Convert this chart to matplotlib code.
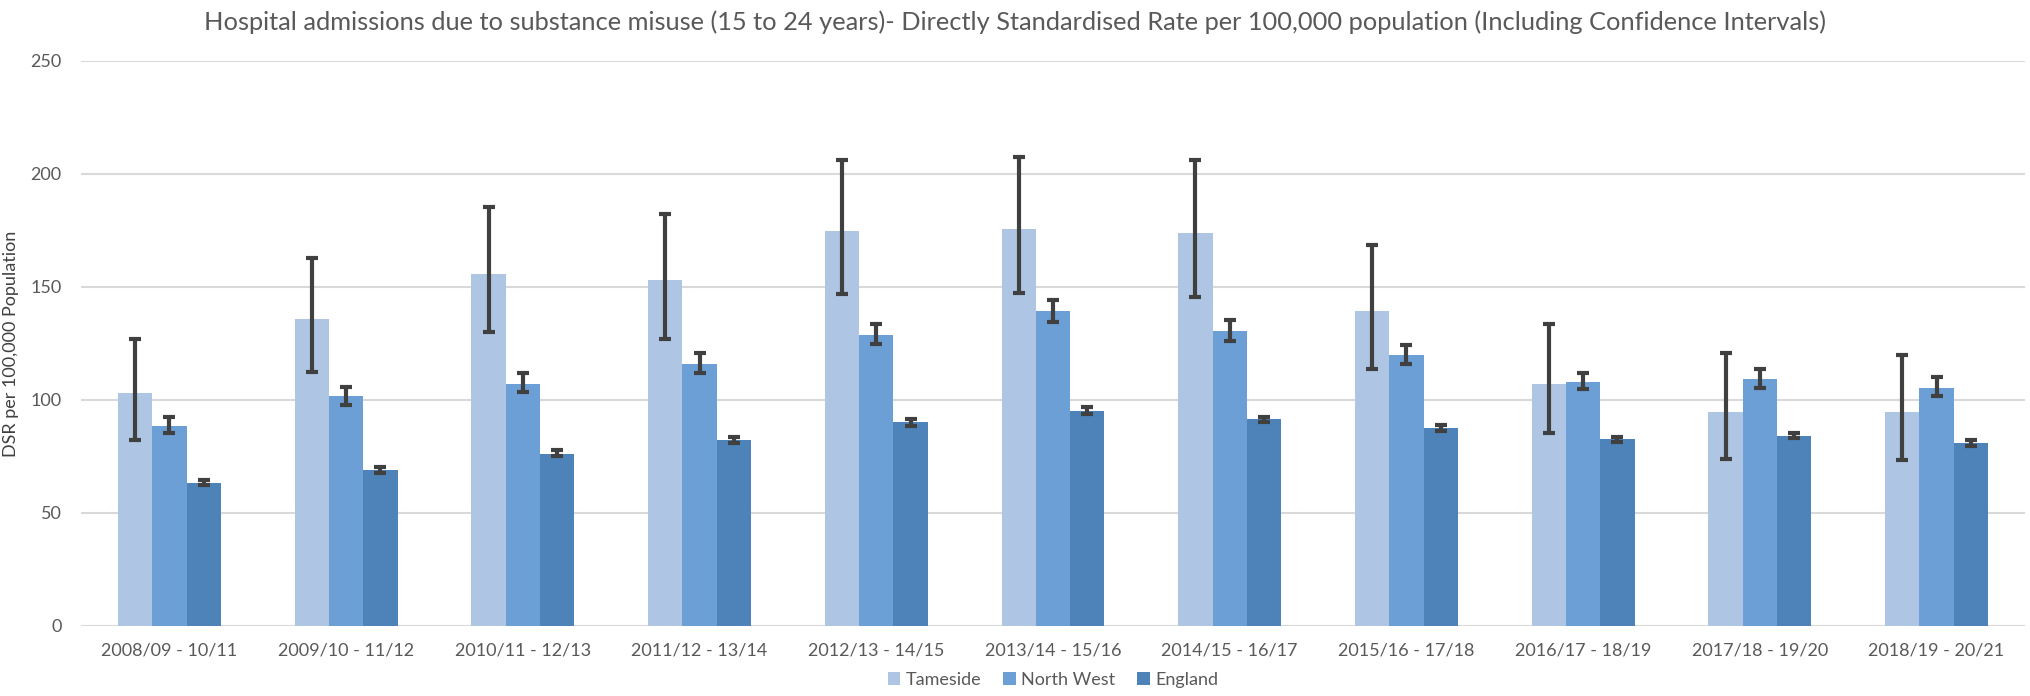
import numpy as np
import matplotlib.pyplot as plt

periods = ['2008/09 - 10/11', '2009/10 - 11/12', '2010/11 - 12/13', '2011/12 - 13/14',
           '2012/13 - 14/15', '2013/14 - 15/16', '2014/15 - 16/17', '2015/16 - 17/18',
           '2016/17 - 18/19', '2017/18 - 19/20', '2018/19 - 20/21']

tameside = [103.0, 135.7, 155.6, 153.3, 174.6, 175.6, 173.9, 139.5, 107.0, 94.5, 94.5]
tameside_lo = [82.3, 112.2, 129.9, 127.0, 147.0, 147.5, 145.5, 113.8, 85.2, 73.8, 73.3]
tameside_hi = [126.8, 162.9, 185.4, 182.4, 206.3, 207.6, 206.3, 168.5, 133.8, 120.6, 120.1]

north_west = [88.3, 101.7, 107.2, 115.8, 128.9, 139.5, 130.6, 119.9, 108.0, 109.2, 105.2]
north_west_lo = [85.5, 97.9, 103.5, 112.1, 124.8, 134.3, 126.0, 115.8, 104.7, 105.3, 101.8]
north_west_hi = [92.4, 105.8, 112.0, 120.6, 133.8, 144.1, 135.5, 124.5, 112.1, 113.6, 110.1]

england = [63.2, 69.1, 76.2, 82.5, 90.1, 95.0, 91.4, 87.4, 82.6, 84.2, 80.8]
england_lo = [62.4, 67.9, 75.2, 80.9, 88.6, 94.0, 90.1, 86.4, 81.6, 83.1, 79.6]
england_hi = [64.4, 70.3, 77.8, 83.8, 91.4, 96.7, 92.6, 88.9, 83.7, 85.5, 82.1]

plt.rcParams['font.family'] = ['Lato', 'DejaVu Sans']

fig = plt.figure(figsize=(20.31, 6.96), dpi=100)
ax = fig.add_axes([0.0399, 0.1006, 0.9571, 0.8118])

x = np.arange(len(periods))
w = 0.194
series = [
    ('Tameside', tameside, tameside_lo, tameside_hi, '#AEC6E4'),
    ('North West', north_west, north_west_lo, north_west_hi, '#6B9FD5'),
    ('England', england, england_lo, england_hi, '#4D83B9'),
]
for i, (name, vals, lo, hi, col) in enumerate(series):
    vals = np.array(vals)
    err = [vals - np.array(lo), np.array(hi) - vals]
    ax.bar(x + (i - 1) * w, vals, w, color=col, label=name, zorder=2)
    ax.errorbar(x + (i - 1) * w, vals, yerr=err, fmt='none', ecolor='#404040',
                elinewidth=3, capsize=4, capthick=3, zorder=3)

ax.set_xlim(-0.5, len(periods) - 0.5)
ax.set_ylim(0, 250)
ax.set_yticks([0, 50, 100, 150, 200, 250])
ax.set_xticks(x)
ax.set_xticklabels(periods)
ax.tick_params(axis='both', length=0, colors='#595959', labelsize=13)
ax.tick_params(axis='y', pad=14)
ax.tick_params(axis='x', pad=12)
ax.yaxis.grid(True, color='#D9D9D9', linewidth=1.5, zorder=0)
ax.set_axisbelow(True)
for s in ['top', 'right', 'left', 'bottom']:
    ax.spines[s].set_visible(False)

ax.set_ylabel('DSR per 100,000 Population', fontsize=13, color='#404040', labelpad=8)
fig.suptitle('Hospital admissions due to substance misuse (15 to 24 years)- Directly Standardised Rate per 100,000 population (Including Confidence Intervals)',
             fontsize=18.3, color='#595959', y=0.985)

ax.legend(loc='center', bbox_to_anchor=(0.5, -0.095), ncol=3, frameon=False,
          fontsize=13, labelcolor='#595959', handlelength=0.7, handleheight=0.7,
          columnspacing=1.2, handletextpad=0.3, borderpad=0.2)

plt.savefig('out.png', dpi=100)
